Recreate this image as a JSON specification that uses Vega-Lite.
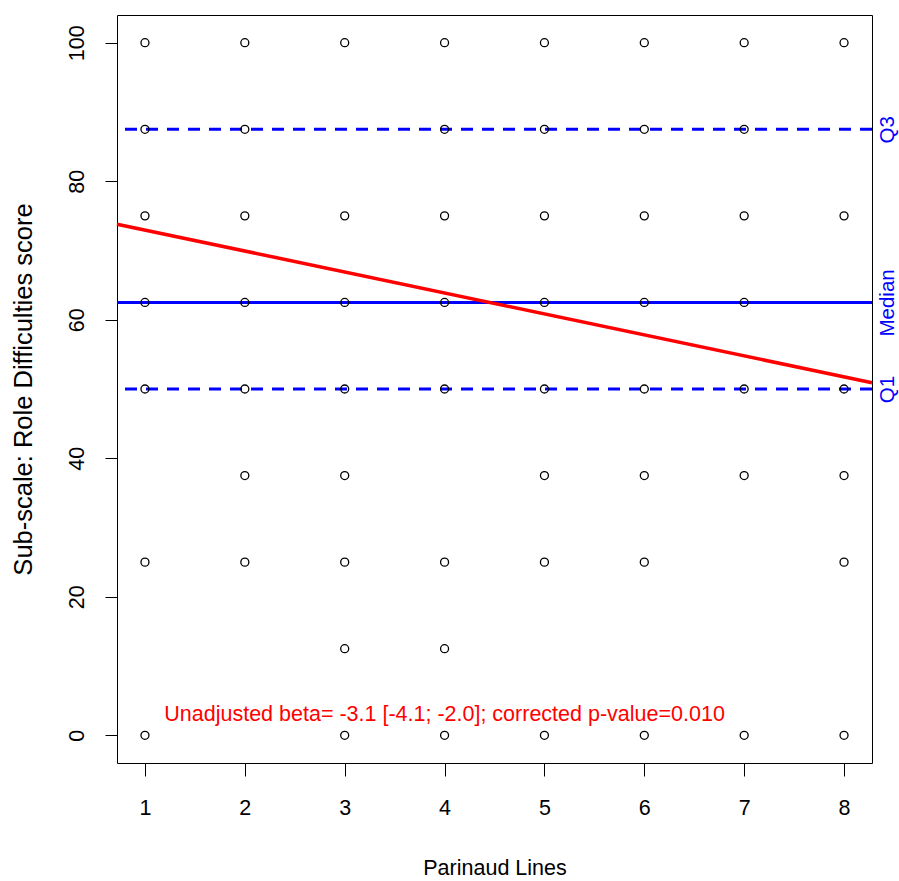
{
  "$schema": "https://vega.github.io/schema/vega-lite/v6.json",
  "width": 755,
  "height": 748,
  "autosize": {"type": "none"},
  "padding": {"left": 117, "top": 15, "right": 27, "bottom": 118},
  "background": "white",
  "config": {
    "view": {"stroke": "black", "strokeWidth": 1},
    "font": "Liberation Sans",
    "axis": {"labelColor": "black", "tickColor": "black", "titleColor": "black", "titleFontWeight": "normal", "grid": false, "domain": false}
  },
  "datasets": {
    "pts": [
      {"x": 1, "y": 0}, {"x": 1, "y": 25}, {"x": 1, "y": 50}, {"x": 1, "y": 62.5}, {"x": 1, "y": 75}, {"x": 1, "y": 87.5}, {"x": 1, "y": 100},
      {"x": 2, "y": 25}, {"x": 2, "y": 37.5}, {"x": 2, "y": 50}, {"x": 2, "y": 62.5}, {"x": 2, "y": 75}, {"x": 2, "y": 87.5}, {"x": 2, "y": 100},
      {"x": 3, "y": 0}, {"x": 3, "y": 12.5}, {"x": 3, "y": 25}, {"x": 3, "y": 37.5}, {"x": 3, "y": 50}, {"x": 3, "y": 62.5}, {"x": 3, "y": 75}, {"x": 3, "y": 100},
      {"x": 4, "y": 0}, {"x": 4, "y": 12.5}, {"x": 4, "y": 25}, {"x": 4, "y": 50}, {"x": 4, "y": 62.5}, {"x": 4, "y": 75}, {"x": 4, "y": 87.5}, {"x": 4, "y": 100},
      {"x": 5, "y": 0}, {"x": 5, "y": 25}, {"x": 5, "y": 37.5}, {"x": 5, "y": 50}, {"x": 5, "y": 62.5}, {"x": 5, "y": 75}, {"x": 5, "y": 87.5}, {"x": 5, "y": 100},
      {"x": 6, "y": 0}, {"x": 6, "y": 25}, {"x": 6, "y": 37.5}, {"x": 6, "y": 50}, {"x": 6, "y": 62.5}, {"x": 6, "y": 75}, {"x": 6, "y": 87.5}, {"x": 6, "y": 100},
      {"x": 7, "y": 0}, {"x": 7, "y": 37.5}, {"x": 7, "y": 50}, {"x": 7, "y": 62.5}, {"x": 7, "y": 75}, {"x": 7, "y": 87.5}, {"x": 7, "y": 100},
      {"x": 8, "y": 0}, {"x": 8, "y": 25}, {"x": 8, "y": 37.5}, {"x": 8, "y": 50}, {"x": 8, "y": 75}, {"x": 8, "y": 100}
    ],
    "quartiles": [
      {"stat": "Q1", "y": 50, "style": "dashed"},
      {"stat": "Median", "y": 62.5, "style": "solid"},
      {"stat": "Q3", "y": 87.5, "style": "dashed"}
    ],
    "fit": [
      {"x": 0.72, "y": 73.8},
      {"x": 8.28, "y": 50.9}
    ],
    "note": [
      {"x": 4, "y": 3, "label": "Unadjusted beta= -3.1 [-4.1; -2.0]; corrected p-value=0.010"}
    ]
  },
  "layer": [
    {
      "data": {"name": "quartiles"},
      "mark": {"type": "rule", "color": "#0000FF", "strokeWidth": 3},
      "encoding": {
        "y": {
          "field": "y", "type": "quantitative",
          "scale": {"domain": [-4, 104], "nice": false, "zero": false},
          "axis": {
            "orient": "right", "values": [50, 62.5, 87.5],
            "labelExpr": "datum.value == 50 ? 'Q1' : datum.value == 62.5 ? 'Median' : 'Q3'",
            "ticks": false, "tickSize": 0, "labelAngle": -90, "labelAlign": "center", "labelBaseline": "top",
            "labelColor": "#0000FF", "labelFontSize": 20.5, "labelPadding": 5, "labelOverlap": false, "title": null
          }
        },
        "strokeDash": {
          "field": "style", "type": "nominal",
          "scale": {"domain": ["dashed", "solid"], "range": [[12, 9], [1, 0]]},
          "legend": null
        }
      }
    },
    {
      "data": {"name": "fit"},
      "mark": {"type": "line", "color": "#FF0000", "strokeWidth": 3.5},
      "encoding": {
        "x": {
          "field": "x", "type": "quantitative",
          "scale": {"domain": [0.72, 8.28], "nice": false, "zero": false},
          "axis": {
            "values": [1, 2, 3, 4, 5, 6, 7, 8], "tickSize": 13, "labelPadding": 21, "labelFontSize": 21.5,
            "title": "Parinaud Lines", "titleFontSize": 21.5, "titlePadding": 39
          }
        },
        "y": {"field": "y", "type": "quantitative", "scale": {"domain": [-4, 104], "nice": false, "zero": false}, "axis": null}
      }
    },
    {
      "data": {"name": "pts"},
      "mark": {"type": "point", "shape": "circle", "filled": false, "color": "black", "size": 64, "strokeWidth": 1.3, "opacity": 1},
      "encoding": {
        "x": {
          "field": "x", "type": "quantitative",
          "scale": {"domain": [0.72, 8.28], "nice": false, "zero": false},
          "axis": {
            "values": [1, 2, 3, 4, 5, 6, 7, 8], "tickSize": 13, "labelPadding": 21, "labelFontSize": 21.5,
            "title": "Parinaud Lines", "titleFontSize": 21.5, "titlePadding": 39
          }
        },
        "y": {
          "field": "y", "type": "quantitative",
          "scale": {"domain": [-4, 104], "nice": false, "zero": false},
          "axis": {
            "values": [0, 20, 40, 60, 80, 100], "tickSize": 12, "labelPadding": 17, "labelFontSize": 21.5,
            "labelAngle": -90, "labelAlign": "center", "labelBaseline": "bottom",
            "title": "Sub-scale: Role Difficulties score", "titleFontSize": 25.5, "titlePadding": 30
          }
        }
      }
    },
    {
      "data": {"name": "note"},
      "mark": {"type": "text", "color": "#FF0000", "fontSize": 21.5, "align": "center", "baseline": "middle"},
      "encoding": {
        "x": {
          "field": "x", "type": "quantitative",
          "scale": {"domain": [0.72, 8.28], "nice": false, "zero": false},
          "axis": {
            "values": [1, 2, 3, 4, 5, 6, 7, 8], "tickSize": 13, "labelPadding": 21, "labelFontSize": 21.5,
            "title": "Parinaud Lines", "titleFontSize": 21.5, "titlePadding": 39
          }
        },
        "y": {"field": "y", "type": "quantitative", "scale": {"domain": [-4, 104], "nice": false, "zero": false}, "axis": null},
        "text": {"field": "label"}
      }
    }
  ],
  "resolve": {"axis": {"x": "shared", "y": "independent"}}
}
